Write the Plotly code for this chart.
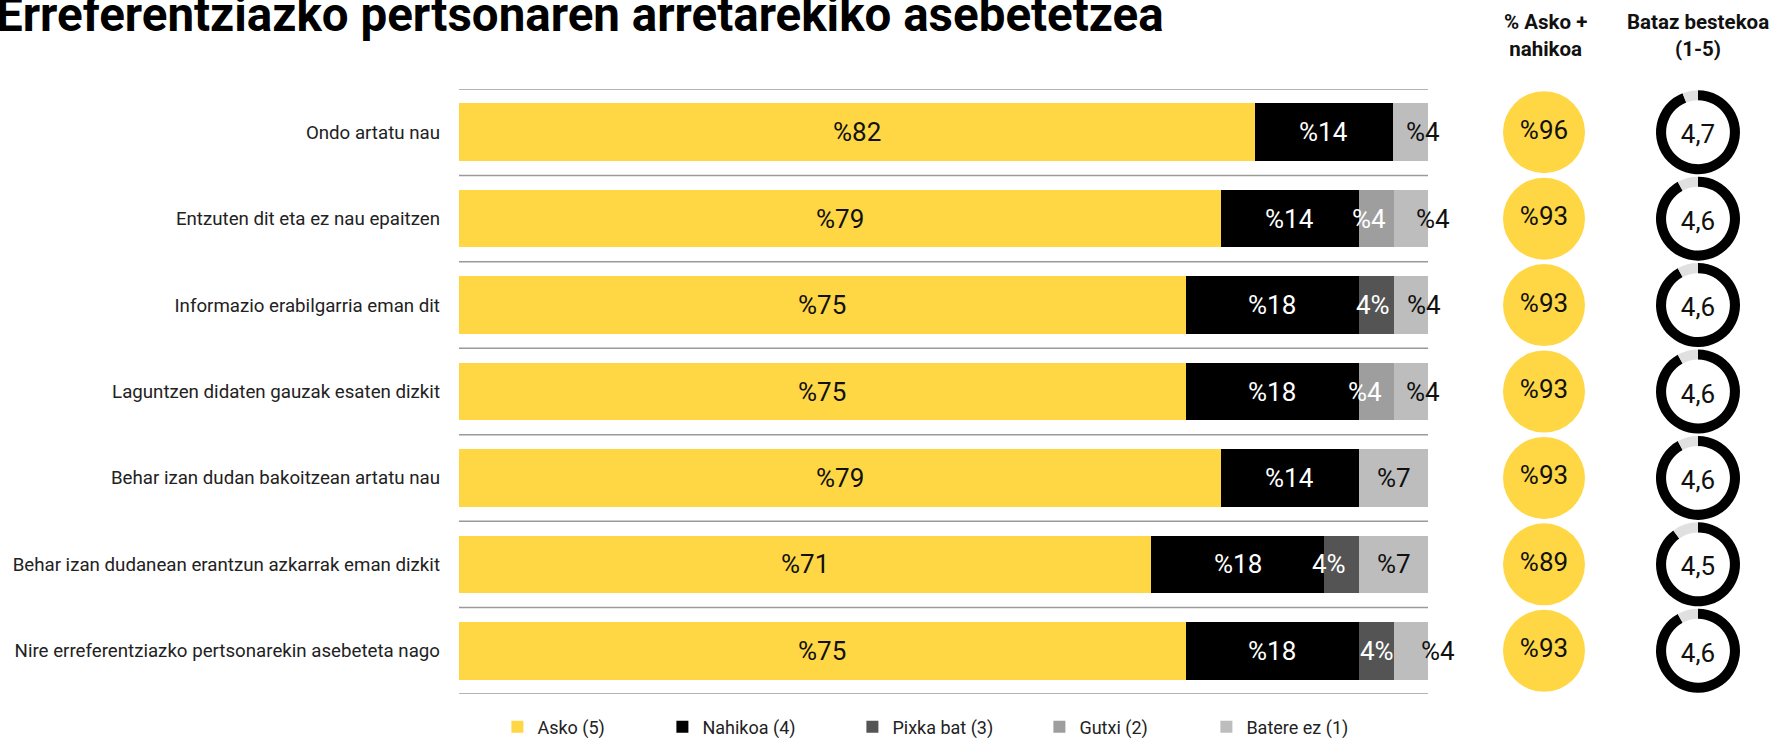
import plotly.graph_objects as go

# ---------------- data ----------------
categories = [
    "Ondo artatu nau",
    "Entzuten dit eta ez nau epaitzen",
    "Informazio erabilgarria eman dit",
    "Laguntzen didaten gauzak esaten dizkit",
    "Behar izan dudan bakoitzean artatu nau",
    "Behar izan dudanean erantzun azkarrak eman dizkit",
    "Nire erreferentziazko pertsonarekin asebeteta nago",
]
series_names = ["Asko (5)", "Nahikoa (4)", "Pixka bat (3)", "Gutxi (2)", "Batere ez (1)"]
asko = [82.1, 78.6, 75.0, 75.0, 78.6, 71.4, 75.0]
nahikoa = [14.3, 14.3, 17.9, 17.9, 14.3, 17.9, 17.9]
pixka_bat = [0.0, 0.0, 3.6, 0.0, 0.0, 3.6, 3.6]
gutxi = [0.0, 3.6, 0.0, 3.6, 0.0, 0.0, 0.0]
batere_ez = [3.6, 3.6, 3.6, 3.6, 7.1, 7.1, 3.6]
asko_nahikoa = [96, 93, 93, 93, 93, 89, 93]
bataz_bestekoa = [4.7, 4.6, 4.6, 4.6, 4.6, 4.5, 4.6]
scale_max = 5

# ---------------- styles ----------------
W, H = 1777, 739
colors = ["#FFD744", "#000000", "#545454", "#9E9E9E", "#BDBDBD"]
label_colors = ["#111111", "#ffffff", "#ffffff", "#ffffff", "#111111"]
label_fmt = ["%{v}", "%{v}", "{v}%", "%{v}", "%{v}"]
# small horizontal nudges (px) of labels in narrow segments, per series/row
label_nudge = [
    [0] * 7,
    [0] * 7,
    [0, 0, -4, 0, 0, -13, 0],
    [0, -8, 0, -12, 0, 0, 0],
    [12, 21, 12, 11, 0, 0, 26],
]
legend_text_x = [538, 703, 893, 1080, 1247]  # px where each legend text starts
FONT = "Roboto, 'Open Sans', sans-serif"

plot_x0, plot_x1 = 459, 1428
plot_top, plot_bot = 89, 694
row_h = (plot_bot - plot_top) / len(categories)
y_dom = [(H - plot_bot) / H, (H - plot_top) / H]
y_rng = [len(categories) - 0.5, -0.5]

fig = go.Figure()
all_series = [asko, nahikoa, pixka_bat, gutxi, batere_ez]
legend_ids = ["legend", "legend2", "legend3", "legend4", "legend5"]
for name, vals, col, lg in zip(series_names, all_series, colors, legend_ids):
    fig.add_trace(go.Bar(
        y=categories, x=vals, name=name, orientation="h",
        marker=dict(color=col, line=dict(width=0)),
        width=0.665, hoverinfo="x+name", legend=lg,
    ))

# segment labels
annotations = []
cum = [0.0] * len(categories)
for s, vals in enumerate(all_series):
    for i, v in enumerate(vals):
        if v > 0:
            txt = label_fmt[s].replace("{v}", str(round(v)))
            annotations.append(dict(
                x=cum[i] + v / 2, y=categories[i], xref="x", yref="y",
                text=txt, showarrow=False, xshift=label_nudge[s][i],
                font=dict(family=FONT, size=26, color=label_colors[s]),
            ))
        cum[i] += v

# yellow circles (% Asko + nahikoa)
x2_dom = (1457 / W, 1.0)
r0 = -87 / 320
fig.add_trace(go.Scatter(
    x=[0] * len(categories), y=categories, xaxis="x2", yaxis="y2",
    mode="markers+text", showlegend=False,
    marker=dict(size=82, color=colors[0], line=dict(width=0)),
    text=["%" + str(v) for v in asko_nahikoa], textposition="middle center",
    textfont=dict(family=FONT, size=26, color="#111111"),
    hoverinfo="text",
))

# donuts (average 1-5)
cx, dia = 1698, 84
for i, m in enumerate(bataz_bestekoa):
    yc = plot_top + row_h * (i + 0.5)
    fig.add_trace(go.Pie(
        values=[m, scale_max - m], labels=["Bataz bestekoa", "rest"],
        marker=dict(colors=["#000000", "#E0E0E0"], line=dict(width=0)),
        hole=0.76, sort=False, direction="clockwise", rotation=0,
        textinfo="none", hoverinfo="skip", showlegend=False,
        domain=dict(x=[(cx - dia / 2) / W, (cx + dia / 2) / W],
                    y=[(H - (yc + dia / 2)) / H, (H - (yc - dia / 2)) / H]),
        title=dict(text=str(m).replace(".", ","), position="middle center",
                   font=dict(family=FONT, size=26, color="#111111")),
    ))

# row separators at category boundaries
shapes = []
for k in range(len(categories) + 1):
    shapes.append(dict(
        type="line", xref="x", yref="y", x0=0, x1=100, y0=k - 0.5, y1=k - 0.5,
        line=dict(color="#9a9a9a", width=1.5), layer="below",
    ))

# titles / headers
annotations.append(dict(
    x=0, y=1, xref="paper", yref="paper", xanchor="left", yanchor="bottom",
    yshift=-45, xshift=-6, showarrow=False,
    text="<b>Erreferentziazko pertsonaren arretarekiko asebetetzea</b>",
    font=dict(family=FONT, size=47.5, color="#000000"),
))
annotations.append(dict(
    x=1545 / W, y=1, xref="paper", yref="paper", xanchor="center", yanchor="top",
    yshift=-8, showarrow=False, text="<b>% Asko +<br>nahikoa</b>",
    font=dict(family=FONT, size=20.5, color="#111111"),
))
annotations.append(dict(
    x=1698 / W, y=1, xref="paper", yref="paper", xanchor="center", yanchor="top",
    yshift=-8, showarrow=False, text="<b>Bataz bestekoa<br>(1-5)</b>",
    font=dict(family=FONT, size=20.5, color="#111111"),
))

layout_legends = {}
for lg, tx in zip(legend_ids, legend_text_x):
    layout_legends[lg] = dict(
        orientation="h", x=(tx - 40.6) / W, y=(H - 727) / H, xanchor="left",
        yanchor="middle", itemwidth=30, bgcolor="rgba(0,0,0,0)",
        font=dict(family=FONT, size=18, color="#222222"),
    )

fig.update_layout(
    width=W, height=H, barmode="stack",
    margin=dict(l=0, r=0, t=0, b=0, autoexpand=False),
    paper_bgcolor="white", plot_bgcolor="white",
    annotations=annotations, shapes=shapes,
    xaxis=dict(domain=[plot_x0 / W, plot_x1 / W], range=[0, 100],
               visible=False, fixedrange=True),
    xaxis2=dict(domain=list(x2_dom), range=[r0, r0 + 1], visible=False,
                anchor="y2", fixedrange=True),
    yaxis=dict(domain=y_dom, type="category", categoryorder="array",
               categoryarray=categories, range=y_rng,
               showgrid=False, ticks="", showline=False, zeroline=False,
               ticklabelstandoff=18,
               tickfont=dict(family=FONT, size=18.7, color="#222222"),
               fixedrange=True),
    yaxis2=dict(domain=y_dom, type="category", categoryorder="array",
                categoryarray=categories, range=y_rng, anchor="x2",
                visible=False, showgrid=False, fixedrange=True),
    showlegend=True,
    **layout_legends,
)

fig.write_html(
    "out.html",
    config={"displayModeBar": False},
    post_script="document.body.style.margin='0';document.body.style.overflow='hidden';",
)
